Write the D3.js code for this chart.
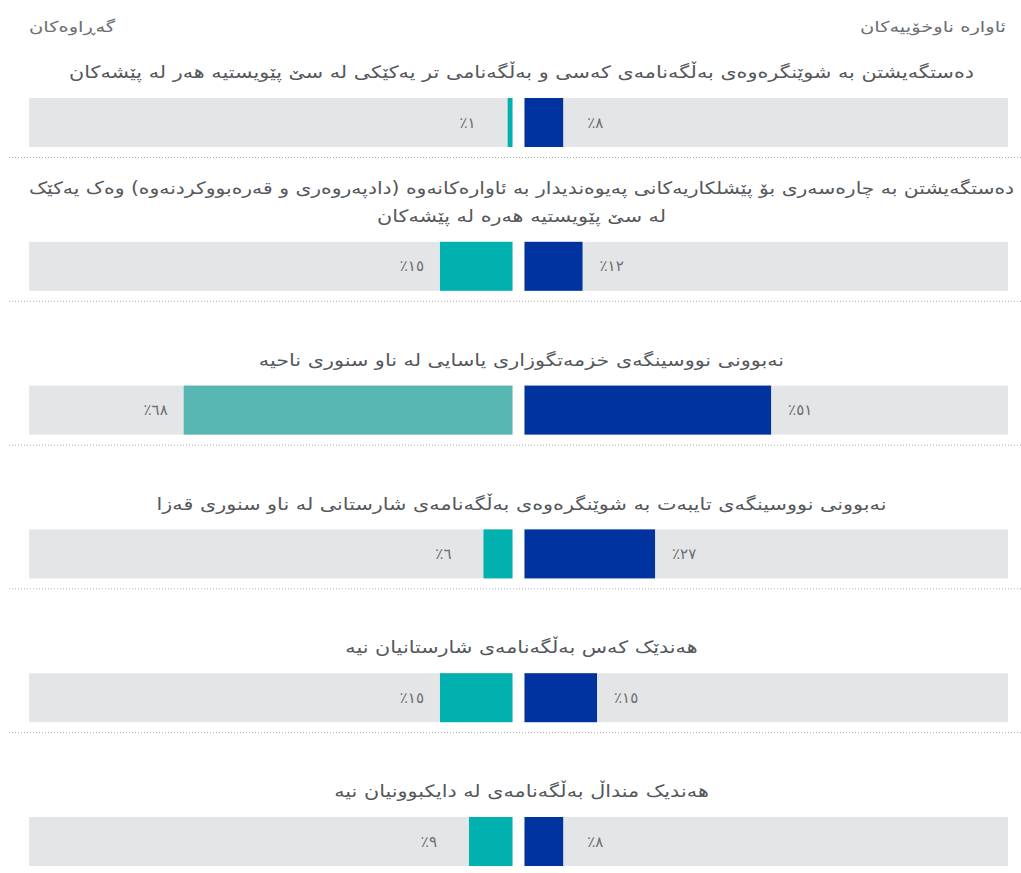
<!DOCTYPE html>
<html lang="ckb">
<head>
<meta charset="utf-8">
<script src="https://cdn.jsdelivr.net/npm/d3@7"></script>
<style>
  html, body { margin: 0; padding: 0; background: #fff; }
  svg { display: block; font-family: "DejaVu Sans", sans-serif; }
</style>
</head>
<body>
<svg id="chart" width="1021" height="873"></svg>
<script>
// Barriers to civil documentation: IDPs (right, blue) vs returnees (left, teal)
const categories = [
  "دەستگەیشتن بە شوێنگرەوەی بەڵگەنامەی کەسی و بەڵگەنامی تر یەکێکی لە سێ پێویستیە هەر لە پێشەکان",
  "دەستگەیشتن بە چارەسەری بۆ پێشلکاریەکانی پەیوەندیدار بە ئاوارەکانەوە (دادپەروەری و قەرەبووکردنەوە) وەک یەکێک\nلە سێ پێویستیە هەرە لە پێشەکان",
  "نەبوونی نووسینگەی خزمەتگوزاری یاسایی لە ناو سنوری ناحیە",
  "نەبوونی نووسینگەی تایبەت بە شوێنگرەوەی بەڵگەنامەی شارستانی لە ناو سنوری قەزا",
  "هەندێک کەس بەڵگەنامەی شارستانیان نیە",
  "هەندیک منداڵ بەڵگەنامەی لە دایکبوونیان نیە"
];
const idpValues = [8, 12, 51, 27, 15, 8];
const returneeValues = [1, 15, 68, 6, 15, 9];
const seriesNames = ["ئاوارە ناوخۆییەکان", "گەڕاوەکان"];

const colors = {
  idp: "#0033a0",
  returnee: "#00b1b0",
  returneeActive: "#58b7b3",
  track: "#e4e5e7",
  text: "#55585c",
  label: "#6b6e72",
  rule: "#a9abae"
};
const activeRow = 2;

const svg = d3.select("#chart");
const W = 1021;
const left = 29, right = 1008, gap = 12;
const half = (right - left - gap) / 2;
const centerL = left + half;          // where returnee bars end
const centerR = centerL + gap;        // where IDP bars start
const barH = 49;
const stretch = 1.22;                 // widen the Kurdish lettering horizontally
const maxTitleW = 986;                // widest a title line may become

const x = d3.scaleLinear().domain([0, 100]).range([0, half]);
const y = d3.scaleLinear().domain([0, categories.length - 1]).range([98, 817]);

const toKu = s => String(s).replace(/\d/g, d => "٠١٢٣٤٥٦٧٨٩"[+d]);
const pct = v => toKu(v) + "٪";

// stretched RTL text placed at (px, py); never wider than maxW
function wideText(parent, px, py, anchor, size, fill, str, sx, maxW) {
  const g = parent.append("g");
  const t = g.append("text")
    .attr("x", 0).attr("y", 0)
    .attr("direction", "rtl").attr("text-anchor", anchor)
    .attr("dominant-baseline", "central")
    .attr("font-size", size).attr("fill", fill)
    .text(str);
  let s = sx;
  if (maxW) s = Math.min(sx, maxW / t.node().getComputedTextLength());
  g.attr("transform", `translate(${px},${py}) scale(${s},1)`);
}

// column headers
wideText(svg, right - 2, 27, "start", 15, colors.label, seriesNames[0], 1.3);
wideText(svg, left, 27, "end", 15, colors.label, seriesNames[1], 1.3);

const rows = svg.selectAll("g.row")
  .data(categories.map((c, i) => ({ c, i, idp: idpValues[i], ret: returneeValues[i] })))
  .join("g")
  .attr("class", "row")
  .attr("transform", d => `translate(0,${y(d.i)})`);

// titles (last line sits just above the bar)
rows.each(function (d) {
  const lines = d.c.split("\n");
  const g = d3.select(this);
  lines.forEach((ln, k) => {
    wideText(g, (left + right) / 2 + 3, -26 - (lines.length - 1 - k) * 28,
      "middle", 17, colors.text, ln, stretch, maxTitleW);
  });
});

// tracks
rows.append("rect")
  .attr("x", left).attr("y", 0)
  .attr("width", half).attr("height", barH)
  .attr("fill", colors.track);
rows.append("rect")
  .attr("x", centerR).attr("y", 0)
  .attr("width", right - centerR).attr("height", barH)
  .attr("fill", colors.track);

// bars
rows.append("rect")
  .attr("x", d => centerL - x(d.ret)).attr("y", 0)
  .attr("width", d => x(d.ret)).attr("height", barH)
  .attr("fill", d => d.i === activeRow ? colors.returneeActive : colors.returnee);
rows.append("rect")
  .attr("x", centerR).attr("y", 0)
  .attr("width", d => x(d.idp)).attr("height", barH)
  .attr("fill", colors.idp);

// value labels
const offIdp = v => v < 10 ? 24 : 17;
const offRet = v => v < 10 ? 32 : 16;
rows.append("text")
  .attr("x", d => centerL - x(d.ret) - offRet(d.ret))
  .attr("y", barH / 2)
  .attr("direction", "rtl").attr("text-anchor", "start")
  .attr("dominant-baseline", "central")
  .attr("font-size", 15).attr("fill", colors.label)
  .text(d => pct(d.ret));
rows.append("text")
  .attr("x", d => centerR + x(d.idp) + offIdp(d.idp))
  .attr("y", barH / 2)
  .attr("direction", "rtl").attr("text-anchor", "end")
  .attr("dominant-baseline", "central")
  .attr("font-size", 15).attr("fill", colors.label)
  .text(d => pct(d.idp));

// dotted separators between rows
rows.filter(d => d.i < categories.length - 1)
  .append("line")
  .attr("x1", 9).attr("x2", W)
  .attr("y1", barH + 10.5).attr("y2", barH + 10.5)
  .attr("stroke", colors.rule)
  .attr("stroke-width", 1)
  .attr("stroke-dasharray", "1,2");
</script>
</body>
</html>
